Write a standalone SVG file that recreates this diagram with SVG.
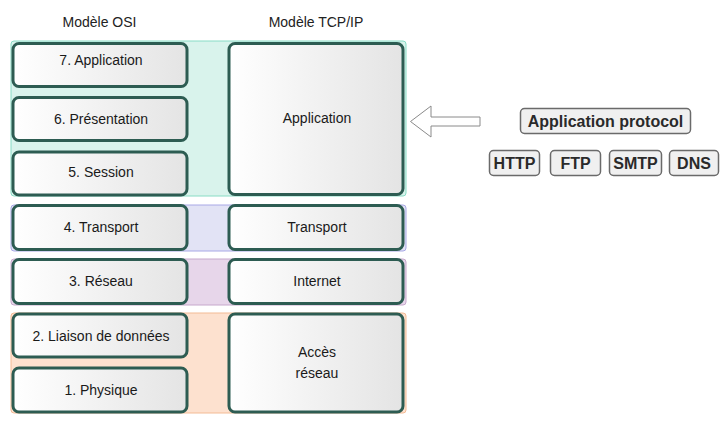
<svg xmlns="http://www.w3.org/2000/svg" width="721" height="438" viewBox="0 0 721 438">
<defs>
<linearGradient id="boxg" x1="0" y1="0" x2="1" y2="0">
<stop offset="0" stop-color="#ffffff"/>
<stop offset="1" stop-color="#e4e4e4"/>
</linearGradient>
<style>
.layer{fill:url(#boxg);stroke:#2d5c52;stroke-width:3}
.t{font-family:"Liberation Sans",Arial,sans-serif;font-size:14px;fill:#1a1a1a;text-anchor:middle}
.title{font-family:"Liberation Sans",Arial,sans-serif;font-size:14px;fill:#222;text-anchor:middle}
.proto{fill:#f0f0f0;stroke:#6a6a6a;stroke-width:1.5}
.pt{font-family:"Liberation Sans",Arial,sans-serif;font-size:16px;font-weight:bold;fill:#2a2a2a;text-anchor:middle}
</style>
</defs>
<rect width="721" height="438" fill="#ffffff"/>
<g id="titles">
<text class="title" x="99.5" y="27">Modèle OSI</text>
<text class="title" x="316" y="27">Modèle TCP/IP</text>
</g>
<g id="bands">
<rect x="11" y="41" width="395" height="155" rx="3" fill="#d9f3ec" stroke="#88dcc5" stroke-width="1"/>
<rect x="11" y="205" width="395" height="46" rx="3" fill="#e2e3f5" stroke="#a8a8e6" stroke-width="1"/>
<rect x="11" y="259" width="395" height="46" rx="3" fill="#e7d6ea" stroke="#c6a8cc" stroke-width="1"/>
<rect x="11" y="313" width="395" height="100" rx="3" fill="#fde1cf" stroke="#f3bb95" stroke-width="1"/>
</g>
<g id="osi7"><rect class="layer" x="13" y="43.5" width="174" height="43" rx="6"/><text class="t" x="101" y="65">7. Application</text></g>
<g id="osi6"><rect class="layer" x="13" y="97.5" width="174" height="43" rx="6"/><text class="t" x="101" y="124">6. Présentation</text></g>
<g id="osi5"><rect class="layer" x="13" y="152" width="174" height="43" rx="6"/><text class="t" x="101" y="177">5. Session</text></g>
<g id="osi4"><rect class="layer" x="13" y="205.5" width="174" height="44" rx="6"/><text class="t" x="101" y="232">4. Transport</text></g>
<g id="osi3"><rect class="layer" x="13" y="259.5" width="174" height="44" rx="6"/><text class="t" x="101" y="286">3. Réseau</text></g>
<g id="osi2"><rect class="layer" x="13" y="314" width="174" height="43" rx="6"/><text class="t" x="101" y="341">2. Liaison de données</text></g>
<g id="osi1"><rect class="layer" x="13" y="368" width="174" height="44" rx="6"/><text class="t" x="101" y="395">1. Physique</text></g>
<g id="tcp-app"><rect class="layer" x="229" y="43.5" width="174" height="151" rx="6"/><text class="t" x="317" y="123">Application</text></g>
<g id="tcp-transport"><rect class="layer" x="229" y="205.5" width="174" height="44" rx="6"/><text class="t" x="317" y="232">Transport</text></g>
<g id="tcp-internet"><rect class="layer" x="229" y="259.5" width="174" height="44" rx="6"/><text class="t" x="317" y="286">Internet</text></g>
<g id="tcp-access"><rect class="layer" x="229" y="314" width="174" height="98" rx="6"/><text class="t" x="317" y="357">Accès</text><text class="t" x="317" y="378">réseau</text></g>
<g id="connectors">
<polygon points="410.5,121.5 431,106 431,117 480,117 480,126 431,126 431,137" fill="#ffffff" stroke="#8a8a8a" stroke-width="1"/>
</g>
<g id="app-protocol"><rect class="proto" x="520.5" y="108.5" width="170" height="25" rx="4"/><text class="pt" x="605.5" y="127">Application protocol</text></g>
<g id="http"><rect class="proto" x="489.5" y="150.5" width="50" height="25" rx="4"/><text class="pt" x="514.5" y="168.5">HTTP</text></g>
<g id="ftp"><rect class="proto" x="550.5" y="150.5" width="50" height="25" rx="4"/><text class="pt" x="575.5" y="168.5">FTP</text></g>
<g id="smtp"><rect class="proto" x="609.5" y="150.5" width="52" height="25" rx="4"/><text class="pt" x="635.5" y="168.5">SMTP</text></g>
<g id="dns"><rect class="proto" x="669.5" y="150.5" width="49" height="25" rx="4"/><text class="pt" x="694" y="168.5">DNS</text></g>
</svg>
